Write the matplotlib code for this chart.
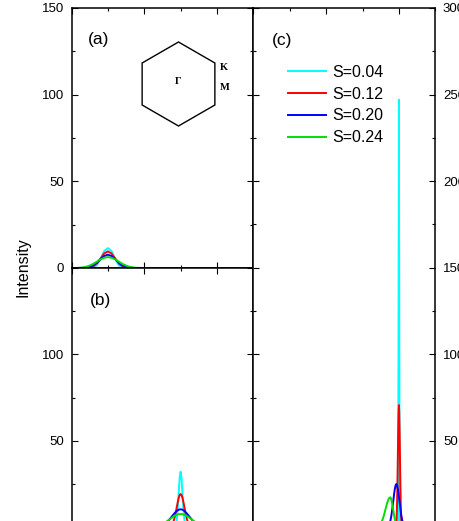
import matplotlib
matplotlib.use("Agg")
import matplotlib.pyplot as plt
from matplotlib.ticker import MultipleLocator
from matplotlib.patches import RegularPolygon

plt.rcParams['font.family'] = ['Liberation Sans', 'DejaVu Sans']

labels = ['S=0.04', 'S=0.12', 'S=0.20', 'S=0.24']
colors = ['#00ffff', '#ff0000', '#0000ff', '#00e000']

# panel (a): peaks at Gamma
xa = [0.0, 0.1, 0.2, 0.3, 0.4, 0.5, 0.6, 0.7, 0.8, 0.9, 1.0,
      1.1, 1.2, 1.3, 1.4, 1.5, 1.6, 1.7, 1.8, 1.9, 2.0, 5.0]
ya_cyan = [0, 0, 0, 0, 0, 0, 0.3, 1.6, 5.3, 9.8, 11.5, 9.8, 5.3, 1.6, 0.3, 0, 0, 0, 0, 0, 0, 0]
ya_red = [0, 0, 0, 0, 0.1, 0.3, 1.0, 2.8, 5.5, 8.4, 9.6, 8.4, 5.5, 2.8, 1.0, 0.3, 0.1, 0, 0, 0, 0, 0]
ya_blue = [0, 0, 0, 0.05, 0.2, 0.6, 1.5, 3.0, 5.1, 6.9, 7.7, 6.9, 5.1, 3.0, 1.5, 0.6, 0.2, 0.05, 0, 0, 0, 0]
ya_green = [0, 0.05, 0.1, 0.3, 0.7, 1.4, 2.4, 3.7, 5.0, 5.9, 6.3, 5.9, 5.0, 3.7, 2.4, 1.4, 0.7, 0.3, 0.1, 0.05, 0, 0]

# panel (b): peaks at M
xb_cyan = [0, 2.8, 2.825, 2.85, 2.875, 2.9, 2.925, 2.95, 2.975, 3.0, 3.025, 3.05, 3.075, 3.1, 3.125, 3.15, 3.175, 3.2, 5]
yb_cyan = [0, 0, 0.14, 0.6, 2.0, 5.4, 11.8, 20.6, 28.8, 32.2, 28.8, 20.6, 11.8, 5.4, 2.0, 0.6, 0.14, 0, 0]
xb_red = [0, 2.6, 2.65, 2.7, 2.75, 2.8, 2.825, 2.85, 2.875, 2.9, 2.925, 2.95, 2.975, 3.0,
          3.025, 3.05, 3.075, 3.1, 3.125, 3.15, 3.175, 3.2, 3.25, 3.3, 3.35, 3.4, 5]
yb_red = [0, 0, 0.07, 0.33, 1.14, 3.15, 4.8, 6.96, 9.5, 12.3, 15.0, 17.2, 18.8, 19.3,
          18.8, 17.2, 15.0, 12.3, 9.5, 6.96, 4.8, 3.15, 1.14, 0.33, 0.07, 0, 0]
xb_blue = [0, 2.2, 2.3, 2.4, 2.5, 2.6, 2.65, 2.7, 2.75, 2.8, 2.85, 2.9, 2.95, 3.0,
           3.05, 3.1, 3.15, 3.2, 3.25, 3.3, 3.35, 3.4, 3.5, 3.6, 3.7, 3.8, 5]
yb_blue = [0, 0.04, 0.15, 0.46, 1.2, 2.6, 3.6, 4.8, 6.1, 7.4, 8.6, 9.6, 10.3, 10.5,
           10.3, 9.6, 8.6, 7.4, 6.1, 4.8, 3.6, 2.6, 1.2, 0.46, 0.15, 0.04, 0]
xb_green = [0, 2.0, 2.1, 2.2, 2.3, 2.4, 2.5, 2.6, 2.65, 2.7, 2.75, 2.8, 2.85, 2.9, 2.95, 3.0,
            3.05, 3.1, 3.15, 3.2, 3.25, 3.3, 3.35, 3.4, 3.5, 3.6, 3.7, 3.8, 3.9, 4.0, 5]
yb_green = [0, 0, 0.09, 0.22, 0.51, 1.05, 1.95, 3.2, 3.95, 4.73, 5.5, 6.24, 6.9, 7.38, 7.7, 7.8,
            7.7, 7.38, 6.9, 6.24, 5.5, 4.73, 3.95, 3.2, 1.95, 1.05, 0.51, 0.22, 0.09, 0, 0]

# panel (c): peaks at K
xc_cyan = [0, 3.96, 3.97, 3.98, 3.99, 4.0, 4.01, 4.02, 4.03, 4.04, 5]
yc_cyan = [0, 0, 0.2, 10.9, 113, 247, 113, 10.9, 0.2, 0, 0]
xc_red = [0, 3.9, 3.91, 3.92, 3.93, 3.94, 3.95, 3.96, 3.97, 3.98, 3.99, 4.0,
          4.01, 4.02, 4.03, 4.04, 4.05, 4.06, 4.07, 4.08, 4.09, 4.1, 5]
yc_red = [0, 0.1, 0.4, 1.2, 3.1, 7.1, 14.4, 25.5, 39.8, 54.8, 66.3, 70.7,
          66.3, 54.8, 39.8, 25.5, 14.4, 7.1, 3.1, 1.2, 0.4, 0.1, 0]
xc_blue = [0, 3.63, 3.68, 3.73, 3.75, 3.77, 3.79, 3.81, 3.83, 3.85, 3.87, 3.89, 3.91, 3.93,
           3.95, 3.97, 3.99, 4.01, 4.03, 4.05, 4.07, 4.09, 4.11, 4.13, 4.18, 4.23, 5]
yc_blue = [0, 0.05, 0.33, 1.6, 2.7, 4.27, 6.5, 9.3, 12.6, 16.1, 19.6, 22.5, 24.4, 25.1,
           24.4, 22.5, 19.6, 16.1, 12.6, 9.3, 6.5, 4.27, 2.7, 1.6, 0.33, 0.05, 0]
xc_green = [0, 3.31, 3.36, 3.41, 3.46, 3.50, 3.53, 3.56, 3.59, 3.62, 3.65, 3.68, 3.71, 3.74, 3.76,
            3.78, 3.80, 3.82, 3.84, 3.86, 3.88, 3.90, 3.92, 3.94, 3.96, 4.01, 4.06, 5]
yc_green = [0, 0.03, 0.13, 0.42, 1.1, 2.2, 3.5, 5.1, 7.2, 9.6, 12.0, 14.3, 16.1, 17.2, 17.4,
            16.9, 15.4, 13.1, 10.6, 8.0, 5.65, 3.76, 2.35, 1.39, 0.77, 0.13, 0.01, 0]

W, H = 459, 521
fig = plt.figure(figsize=(W / 100, H / 100), dpi=100)

ax_a = fig.add_axes([71.5 / W, 1 - 268 / H, 181.8 / W, 260 / H])
ax_b = fig.add_axes([71.5 / W, 1 - 527.5 / H, 181.8 / W, 260 / H])
ax_c = fig.add_axes([253.3 / W, 1 - 527.5 / H, 182 / W, 519.5 / H])

lw = 1.4
for y, c in zip([ya_cyan, ya_red, ya_blue, ya_green], colors):
    ax_a.plot(xa, y, color=c, lw=lw)
for x, y, c in zip([xb_cyan, xb_red, xb_blue, xb_green],
                   [yb_cyan, yb_red, yb_blue, yb_green], colors):
    ax_b.plot(x, y, color=c, lw=lw)
lines = []
for x, y, c, lab in zip([xc_cyan, xc_red, xc_blue, xc_green],
                        [yc_cyan, yc_red, yc_blue, yc_green], colors, labels):
    l, = ax_c.plot(x, y, color=c, lw=lw, label=lab)
    lines.append(l)

for ax in (ax_a, ax_b, ax_c):
    ax.set_xlim(0, 5)
    ax.xaxis.set_major_locator(MultipleLocator(2))
    ax.xaxis.set_minor_locator(MultipleLocator(1))
    ax.yaxis.set_major_locator(MultipleLocator(50))
    ax.yaxis.set_minor_locator(MultipleLocator(25))
    ax.tick_params(which='both', direction='in', top=True, bottom=True, left=True, right=True,
                   labelbottom=False, labelsize=9.5, width=0.8, pad=5.5)
    ax.tick_params(which='major', length=4.5)
    ax.tick_params(which='minor', length=2.5)
    for s in ax.spines.values():
        s.set_linewidth(1.1)

ax_a.set_ylim(0, 150)
ax_b.set_ylim(0, 150)
ax_b.set_yticks([0, 50, 100, 150])
ax_b.set_yticklabels(['', '50', '100', ''])
ax_c.set_ylim(0, 300)
ax_c.set_yticks([0, 50, 100, 150, 200, 250, 300])
ax_c.set_yticklabels(['', '50', '100', '150', '200', '250', '300'])
ax_c.tick_params(labelleft=False, labelright=True)

ax_a.text(0.092, 0.877, '(a)', transform=ax_a.transAxes, fontsize=12.5, va='center')
ax_b.text(0.100, 0.872, '(b)', transform=ax_b.transAxes, fontsize=12.5, va='center')
ax_c.text(0.103, 0.938, '(c)', transform=ax_c.transAxes, fontsize=12.5, va='center')

ax_c.legend(handles=lines, loc='upper left', bbox_to_anchor=(288 / W, 1 - 65 / H),
            bbox_transform=fig.transFigure, frameon=False, fontsize=11.5,
            handlelength=2.4, handletextpad=0.4, labelspacing=0.42,
            borderpad=0, borderaxespad=0)

fig.text(23 / W, 1 - 267 / H, 'Intensity', rotation=90, ha='center', va='center', fontsize=11.5)

# Brillouin zone sketch
hexagon = RegularPolygon((1.785, (H - 84) / 100), numVertices=6, radius=0.42,
                         transform=fig.dpi_scale_trans, fill=False, ec='black', lw=1.0)
fig.add_artist(hexagon)
bz = dict(fontsize=7.5, fontweight='bold', family='Liberation Serif', ha='center', va='center')
fig.text(178.5 / W, 1 - 82 / H, '\u0393', **bz)
fig.text(224 / W, 1 - 68 / H, 'K', **bz)
fig.text(225 / W, 1 - 88 / H, 'M', **bz)

fig.savefig('out.png', dpi=100)
